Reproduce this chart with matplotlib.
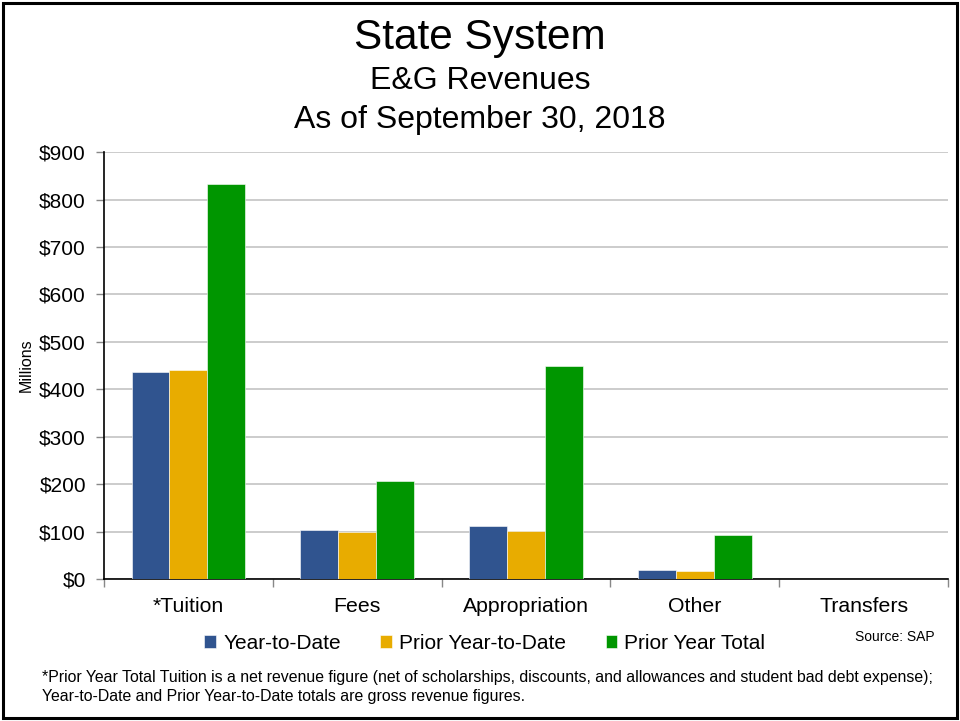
import matplotlib
matplotlib.use("Agg")
import matplotlib.pyplot as plt
from matplotlib.patches import Rectangle
from matplotlib.ticker import FuncFormatter, FixedLocator
import numpy as np

plt.rcParams['font.family'] = ['Liberation Sans', 'DejaVu Sans']

categories = ["*Tuition", "Fees", "Appropriation", "Other", "Transfers"]
year_to_date = [436, 103, 111, 19, 0]
prior_year_to_date = [440, 98, 101, 17, 0]
prior_year_total = [833, 207, 449, 92, 0]
series_names = ["Year-to-Date", "Prior Year-to-Date", "Prior Year Total"]
colors = ["#30548F", "#E8AC00", "#009600"]
yticks = [0, 100, 200, 300, 400, 500, 600, 700, 800, 900]

fig = plt.figure(figsize=(9.6, 7.21), dpi=100)
ax = fig.add_axes([0.1083, 0.197, 0.8792, 0.592])

x = np.arange(len(categories))
w = 0.224
series = [year_to_date, prior_year_to_date, prior_year_total]
handles = []
for i, (vals, c, name) in enumerate(zip(series, colors, series_names)):
    b = ax.bar(x + (i - 1) * w, vals, width=w, color=c, label=name,
               edgecolor='#ffffff', linewidth=0.4, zorder=3)
    handles.append(b)

ax.set_xlim(-0.5, len(categories) - 0.5)
ax.set_ylim(0, 900)
ax.set_yticks(yticks)
ax.yaxis.set_major_formatter(FuncFormatter(lambda v, p: f"${int(v)}"))
ax.set_xticks(x)
ax.set_xticklabels(categories)
ax.xaxis.set_minor_locator(FixedLocator(np.arange(-0.5, len(categories), 1.0)))
ax.tick_params(axis='x', which='major', length=0, pad=13, labelsize=15.3)
ax.tick_params(axis='x', which='minor', length=6, color='#888888', width=1)
ax.tick_params(axis='y', which='major', length=6, color='#888888', width=1,
               labelsize=15, pad=7)
ax.grid(axis='y', color='#c8c8c8', linewidth=1.3, zorder=0)
ax.set_axisbelow(True)
for s in ['top', 'right']:
    ax.spines[s].set_visible(False)
ax.spines['left'].set_color('black')
ax.spines['bottom'].set_color('black')
ax.spines['left'].set_linewidth(1.2)
ax.spines['bottom'].set_linewidth(1.2)
ax.set_ylabel("Millions", fontsize=11.5, labelpad=4)

fig.text(0.5, 0.947, "State System", ha='center', va='center', fontsize=30.5)
fig.text(0.5, 0.887, "E&G Revenues", ha='center', va='center', fontsize=23)
fig.text(0.5, 0.834, "As of September 30, 2018", ha='center', va='center', fontsize=23)

fig.legend(handles=handles, labels=series_names, loc='center',
           bbox_to_anchor=(0.505, 0.108), ncol=3, frameon=False, fontsize=15,
           handlelength=0.55, handleheight=0.55, handletextpad=0.35,
           columnspacing=1.9)

fig.text(0.974, 0.116, "Source: SAP", ha='right', va='center', fontsize=10)
fig.text(0.044, 0.047,
         "*Prior Year Total Tuition is a net revenue figure (net of scholarships, discounts, and allowances and student bad debt expense);\n"
         "Year-to-Date and Prior Year-to-Date totals are gross revenue figures.",
         ha='left', va='center', fontsize=11.4, linespacing=1.3)

fig.patches.append(Rectangle((0.003, 0.004), 0.994, 0.992, transform=fig.transFigure,
                             fill=False, edgecolor='black', linewidth=2.2))

fig.savefig("out.png", dpi=100)
